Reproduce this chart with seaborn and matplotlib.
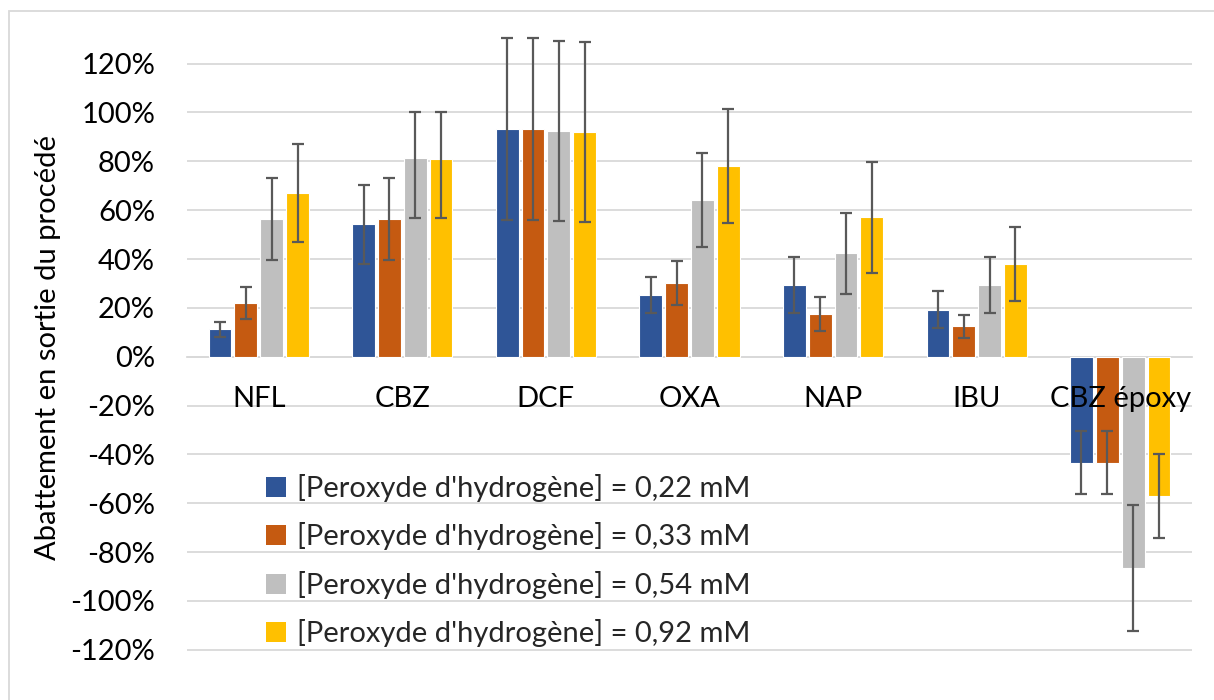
import numpy as np
import pandas as pd
import matplotlib
matplotlib.use("Agg")
import matplotlib.pyplot as plt
import seaborn as sns
from matplotlib.patches import Patch, Rectangle
from matplotlib.ticker import PercentFormatter

# ---------------- data ----------------
categories = ["NFL", "CBZ", "DCF", "OXA", "NAP", "IBU", "CBZ époxy"]
series_labels = [
    "[Peroxyde d'hydrogène] = 0,22 mM",
    "[Peroxyde d'hydrogène] = 0,33 mM",
    "[Peroxyde d'hydrogène] = 0,54 mM",
    "[Peroxyde d'hydrogène] = 0,92 mM",
]
# values in %
v_022 = [11.2, 54.3, 93.3, 25.3, 29.4, 19.2, -43.4]
v_033 = [22.1, 56.2, 93.3, 30.2, 17.4, 12.4, -43.4]
v_054 = [56.2, 81.2, 92.4, 64.3, 42.3, 29.4, -86.4]
v_092 = [66.9, 80.8, 92.0, 78.1, 57.1, 38.0, -56.9]
# error bars (minus / plus) in %
em_022 = [3.2, 16.2, 37.2, 7.5, 11.5, 7.5, 12.9]
ep_022 = [3.2, 16.2, 37.2, 7.5, 11.5, 7.5, 12.9]
em_033 = [6.5, 16.8, 37.2, 9.0, 6.9, 4.8, 12.9]
ep_033 = [6.5, 16.8, 37.2, 9.0, 6.9, 4.8, 12.9]
em_054 = [16.8, 24.4, 36.7, 19.2, 16.7, 11.5, 25.8]
ep_054 = [16.8, 19.0, 36.7, 19.2, 16.7, 11.5, 25.8]
em_092 = [20.0, 24.0, 36.7, 23.3, 22.7, 15.2, 17.2]
ep_092 = [20.0, 19.4, 36.7, 23.3, 22.7, 15.2, 17.2]

values = [v_022, v_033, v_054, v_092]
err_minus = [em_022, em_033, em_054, em_092]
err_plus = [ep_022, ep_033, ep_054, ep_092]
colors = ["#2F5597", "#C55A11", "#BFBFBF", "#FFC000"]
y_ticks_pct = [-120, -100, -80, -60, -40, -20, 0, 20, 40, 60, 80, 100, 120]

rows = []
for lab, vals in zip(series_labels, values):
    for c, v in zip(categories, vals):
        rows.append({"compound": c, "condition": lab, "value": v / 100.0})
df = pd.DataFrame(rows)

# ---------------- style ----------------
sns.set_theme(style="white")
plt.rcParams["font.family"] = ["Lato", "DejaVu Sans"]
plt.rcParams["axes.unicode_minus"] = False
FS = 21
W, H = 1214, 700
PX2PT = 72 / 100

fig = plt.figure(figsize=(W / 100, H / 100), dpi=100)
ax = fig.add_axes([187 / W, 1 - 674.2 / H, (1192 - 187) / W, (674.2 - 39.2) / H])

sns.barplot(data=df, x="compound", y="value", hue="condition",
            order=categories, hue_order=series_labels, palette=colors,
            saturation=1, width=0.72, gap=0.12, edgecolor="white", linewidth=0.8,
            errorbar=None, legend=False, ax=ax, zorder=3)

# error bars on bar ends
for cont, em, ep in zip(ax.containers, err_minus, err_plus):
    xs = [b.get_x() + b.get_width() / 2 for b in cont]
    ys = [b.get_y() + b.get_height() for b in cont]
    ax.errorbar(xs, ys, yerr=[np.array(em) / 100, np.array(ep) / 100], fmt="none",
                ecolor="#595959", elinewidth=1.6, capsize=4.5, capthick=1.6,
                zorder=4, clip_on=False)

ax.set_ylim(-1.3, 1.3)
ax.set_xlim(-0.5, len(categories) - 0.5)
ax.set_yticks(np.array(y_ticks_pct) / 100)
ax.yaxis.set_major_formatter(PercentFormatter(1.0, decimals=0))
ax.grid(axis="y", color="#D9D9D9", linewidth=1.3, zorder=0)
ax.grid(axis="x", visible=False)
ax.set_axisbelow(True)

for s in ["top", "right", "left"]:
    ax.spines[s].set_visible(False)
ax.spines["bottom"].set_position(("data", 0))
ax.spines["bottom"].set_color("#D9D9D9")
ax.spines["bottom"].set_linewidth(1.3)

# category labels drawn on top of bars / gridlines
ax.tick_params(axis="x", length=0, labelbottom=False)
for i, c in enumerate(categories):
    ax.annotate(c, xy=(i, 0), xytext=(0, -50.5 * PX2PT), textcoords="offset points",
                ha="center", va="baseline", fontsize=FS, color="black", zorder=6)

ax.tick_params(axis="y", length=0, pad=32 * PX2PT, labelsize=FS, colors="black")
ax.set_xlabel("")
ax.set_ylabel("Abattement en sortie du procédé", fontsize=FS, color="black")
ax.yaxis.set_label_coords((61 - 187) / 1005, (674.2 - 348) / 635)

handles = [Patch(facecolor=c, edgecolor="none") for c in colors]
ax.legend(handles, series_labels, loc="upper left",
          bbox_to_anchor=((266 - 187) / 1005, (674.2 - 474) / 635),
          frameon=False, fontsize=FS, handlelength=0.69, handleheight=0.69,
          handletextpad=0.36, labelspacing=0.7, borderpad=0, borderaxespad=0)

# chart-area border (top & left visible)
fig.patches.append(Rectangle((8.5 / W, -0.5), 2.0, 1.5 - 10.5 / H,
                             transform=fig.transFigure, fill=False,
                             edgecolor="#D9D9D9", linewidth=1.3))

fig.savefig("out.png", dpi=100)
